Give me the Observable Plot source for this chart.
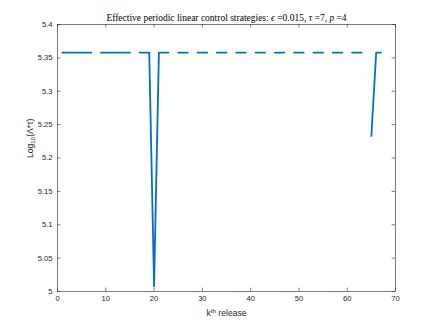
<!DOCTYPE html>
<html><head><meta charset="utf-8">
<script src="https://cdn.jsdelivr.net/npm/d3@7"></script>
<script src="https://cdn.jsdelivr.net/npm/@observablehq/plot@0.6"></script>
<style>body{margin:0;background:#fff} svg{display:block}</style>
</head><body><div id="chart"></div>
<script>
const releases = [1,2,3,4,5,6,7,8,9,10,11,12,13,14,15,16,17,18,19,20,21,22,23,24,25,26,27,28,29,30,31,32,33,34,35,36,37,38,39,40,41,42,43,44,45,46,47,48,49,50,51,52,53,54,55,56,57,58,59,60,61,62,63,64,65,66,67];
const logValues = [
  5.358,5.358,5.358,5.358,5.358,5.358,5.358,null,
  5.358,5.358,5.358,5.358,5.358,5.358,5.358,null,
  5.358,5.358,5.358,5.008,5.358,5.358,5.358,null,
  5.358,5.358,5.358,null,
  5.358,5.358,5.358,null,
  5.358,5.358,5.358,null,
  5.358,5.358,5.358,null,
  5.358,5.358,5.358,null,
  5.358,5.358,5.358,null,
  5.358,5.358,5.358,null,
  5.358,5.358,5.358,null,
  5.358,5.358,5.358,null,
  5.358,5.358,5.358,null,
  5.233,5.358,5.358
];
const xTicks = [0,10,20,30,40,50,60,70];
const yTicks = [5,5.05,5.1,5.15,5.2,5.25,5.3,5.35,5.4];
const xTickLabels = ["0","10","20","30","40","50","60","70"];
const yTickLabels = ["5","5.05","5.1","5.15","5.2","5.25","5.3","5.35","5.4"];
const titleText = "Effective periodic linear control strategies: ϵ =0.015, τ =7, p =4";
const xLabelText = "kth release";
const yLabelText = "Log10(Λ*τ)";

const W = 436, H = 327, mL = 57, mR = 41, mT = 24, mB = 36;
const pw = W - mL - mR, ph = H - mT - mB, tl = 3.4;
const axisColor = "#262626";
const data = releases.map((k, i) => ({k, v: logValues[i]}));

const plot = Plot.plot({
  width: W, height: H,
  marginLeft: mL, marginRight: mR, marginTop: mT, marginBottom: mB,
  style: {fontFamily: "'Liberation Sans', Arial, sans-serif", fontSize: "7.6px", color: axisColor, background: "#fff", overflow: "visible"},
  x: {domain: [0, 70]},
  y: {domain: [5, 5.4]},
  marks: [
    Plot.line(data, {x: "k", y: "v", stroke: "#0072BD", strokeWidth: 1.8}),
    Plot.frame({stroke: axisColor, strokeWidth: 0.6}),
    Plot.tickX(xTicks, {x: d => d, insetTop: ph - tl, stroke: axisColor, strokeWidth: 0.6}),
    Plot.tickX(xTicks, {x: d => d, insetBottom: ph - tl, stroke: axisColor, strokeWidth: 0.6}),
    Plot.tickY(yTicks, {y: d => d, insetRight: pw - tl, stroke: axisColor, strokeWidth: 0.6}),
    Plot.tickY(yTicks, {y: d => d, insetLeft: pw - tl, stroke: axisColor, strokeWidth: 0.6}),
    Plot.axisX(xTicks, {tickSize: 0, tickPadding: 4.5, label: null, tickFormat: (d, i) => xTickLabels[xTicks.indexOf(d)]}),
    Plot.axisY(yTicks, {tickSize: 0, tickPadding: 5, label: null, tickFormat: (d, i) => yTickLabels[yTicks.indexOf(d)]}),
    Plot.text([titleText], {frameAnchor: "top", dy: -7, lineAnchor: "middle", text: d => d, fontFamily: "'Liberation Serif', 'DejaVu Serif', serif", fontSize: 9.5, fill: "#000"}),
    Plot.text([xLabelText], {frameAnchor: "bottom", dy: 22, lineAnchor: "middle", text: d => d, fontSize: 8.6, fill: axisColor}),
    Plot.text([yLabelText], {frameAnchor: "left", dx: -27, rotate: -90, lineAnchor: "middle", text: d => d, fontSize: 8.6, fill: axisColor})
  ]
});
document.getElementById("chart").appendChild(plot);

// rich formatting of labels (subscript / superscript / italic math)
d3.select(plot).selectAll("text").each(function() {
  const t = d3.select(this);
  const s = this.textContent;
  if (s === titleText) {
    t.text(null);
    const parts = [["Effective periodic linear control strategies: ", false], ["ϵ", true], [" =0.015, ", false], ["τ", true], [" =7, ", false], ["p", true], [" =4", false]];
    parts.forEach(([p, it]) => t.append("tspan").attr("font-style", it ? "italic" : null).text(p));
  } else if (s === xLabelText) {
    t.text(null);
    t.append("tspan").text("k");
    t.append("tspan").attr("dy", -3).attr("font-size", 6.2).text("th");
    t.append("tspan").attr("dy", 3).text(" release");
  } else if (s === yLabelText) {
    t.text(null);
    t.append("tspan").text("Log");
    t.append("tspan").attr("dy", 2.2).attr("font-size", 6.2).text("10");
    t.append("tspan").attr("dy", -2.2).text("(Λ*τ)");
  }
});
</script>
</body></html>
